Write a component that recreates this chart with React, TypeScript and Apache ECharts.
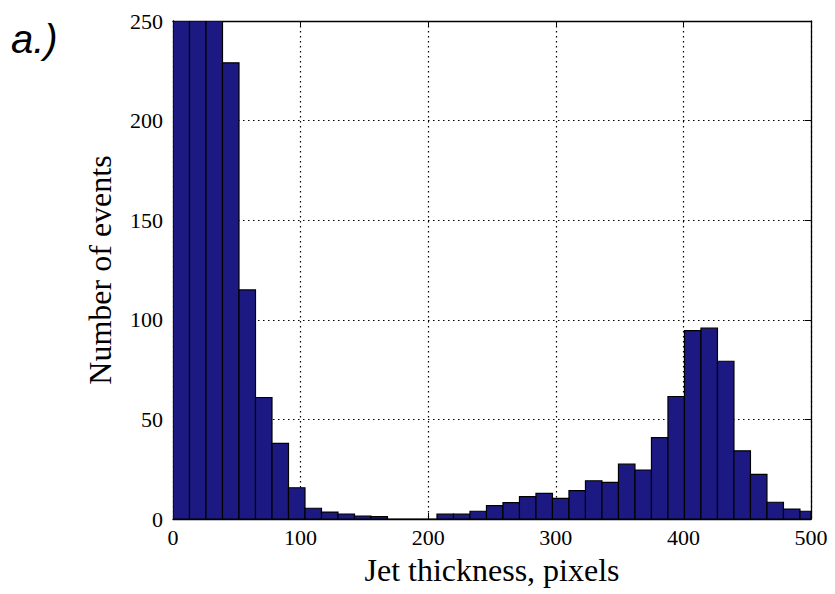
import React, { useEffect, useRef } from "react";
import * as echarts from "echarts";

// Histogram data (counts per bin, bins start at 0)
const binStart = 0;
const binWidth = 12.93;
const counts = [
  300, 320, 285, 229, 115, 61, 38, 15.7, 5.4, 3.5,
  2.5, 1.5, 1.2, 0, 0, 0, 2.4, 2.4, 3.9, 6.7,
  8.2, 11.2, 12.9, 10.4, 14.2, 19.2, 18.4, 27.5, 24.6, 40.9,
  61.5, 94.6, 95.8, 79.2, 34.2, 22.4, 8.4, 5, 3.9,
];
const xTicks = { min: 0, max: 500, interval: 100 };
const yTicks = { min: 0, max: 250, interval: 50 };
const xTitle = "Jet thickness, pixels";
const yTitle = "Number of events";
const panelLabel = "a.)";

export default function App() {
  const ref = useRef<HTMLDivElement>(null);
  useEffect(() => {
    if (!ref.current) return;
    const chart = echarts.init(ref.current, null, { renderer: "svg" });
    const data = counts.map((c, i) => [
      binStart + i * binWidth,
      binStart + (i + 1) * binWidth,
      c,
    ]);
    const serif = "Liberation Serif";
    const tickFont = { fontFamily: serif, fontSize: 22, color: "#000" };
    const dotted = { color: "#000", width: 1.2, type: [1.5, 3.5] as any };
    const axisLine = { show: true, onZero: false, lineStyle: { color: "#000", width: 1.3 } };
    const axisTick = { show: true, inside: true, length: 6, lineStyle: { color: "#000" } };
    const option: any = {
      animation: false,
      backgroundColor: "#fff",
      grid: { left: 173, top: 21, right: 24, bottom: 75, containLabel: false },
      xAxis: [
        {
          type: "value",
          min: xTicks.min,
          max: xTicks.max,
          interval: xTicks.interval,
          position: "bottom",
          axisLine,
          axisTick,
          axisLabel: { ...tickFont, margin: 7 },
          splitLine: { show: true, lineStyle: dotted },
          name: xTitle,
          nameLocation: "middle",
          nameGap: 35,
          nameTextStyle: { fontFamily: serif, fontSize: 32, color: "#000" },
        },
        {
          type: "value",
          min: xTicks.min,
          max: xTicks.max,
          interval: xTicks.interval,
          position: "top",
          axisLine,
          axisTick,
          axisLabel: { show: false },
          splitLine: { show: false },
        },
      ],
      yAxis: [
        {
          type: "value",
          min: yTicks.min,
          max: yTicks.max,
          interval: yTicks.interval,
          position: "left",
          axisLine,
          axisTick,
          axisLabel: { ...tickFont, margin: 10 },
          splitLine: { show: true, lineStyle: dotted },
          name: yTitle,
          nameLocation: "middle",
          nameGap: 57,
          nameTextStyle: { fontFamily: serif, fontSize: 32, color: "#000" },
        },
        {
          type: "value",
          min: yTicks.min,
          max: yTicks.max,
          interval: yTicks.interval,
          position: "right",
          axisLine,
          axisTick,
          axisLabel: { show: false },
          splitLine: { show: false },
        },
      ],
      series: [
        {
          type: "custom",
          xAxisIndex: 0,
          yAxisIndex: 0,
          data,
          encode: { x: [0, 1], y: 2 },
          clip: true,
          z: 3,
          renderItem: (params: any, api: any) => {
            const p0 = api.coord([api.value(0), 0]);
            const p1 = api.coord([api.value(1), api.value(2)]);
            const shape = echarts.graphic.clipRectByRect(
              { x: p0[0], y: p1[1], width: p1[0] - p0[0], height: p0[1] - p1[1] },
              params.coordSys
            );
            if (!shape) return null;
            return {
              type: "rect",
              shape,
              style: { fill: "#1c1a82", stroke: "#000", lineWidth: 1.2 },
            };
          },
        },
      ],
      graphic: [
        {
          type: "text",
          left: 11,
          top: 19,
          style: {
            text: panelLabel,
            fontFamily: "Liberation Sans",
            fontStyle: "italic",
            fontSize: 40,
            fill: "#000",
          },
        },
      ],
    };
    chart.setOption(option);
    return () => chart.dispose();
  }, []);
  return (
    <div
      ref={ref}
      style={{ position: "fixed", left: 0, top: 0, width: 835, height: 594 }}
    />
  );
}
